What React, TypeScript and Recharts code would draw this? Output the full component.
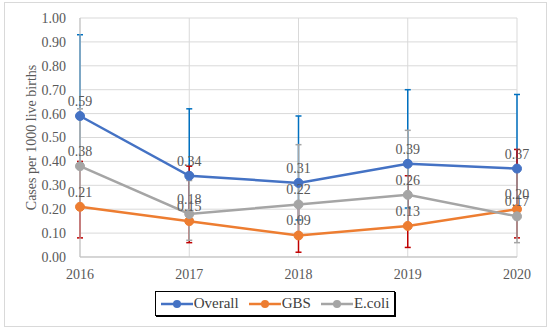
import React from 'react';
import { CartesianGrid, XAxis, YAxis, Line, LineChart, ErrorBar, LabelList, Label } from 'recharts';

const years = ['2016', '2017', '2018', '2019', '2020'];

const overall = [0.59, 0.34, 0.31, 0.39, 0.37];
const overallLow = [0.38, 0.16, 0.155, 0.205, 0.17];
const overallHigh = [0.93, 0.62, 0.59, 0.70, 0.68];

const gbs = [0.21, 0.15, 0.09, 0.13, 0.20];
const gbsLow = [0.08, 0.06, 0.02, 0.04, 0.08];
const gbsHigh = [0.40, 0.38, 0.22, 0.34, 0.45];

const ecoli = [0.38, 0.18, 0.22, 0.26, 0.17];
const ecoliLow = [0.22, 0.07, 0.10, 0.12, 0.06];
const ecoliHigh = [0.62, 0.32, 0.47, 0.53, 0.36];

const yTicks = [0, 0.1, 0.2, 0.3, 0.4, 0.5, 0.6, 0.7, 0.8, 0.9, 1.0];

const data = years.map((year, i) => ({
  year,
  overall: overall[i],
  overallErr: [overall[i] - overallLow[i], overallHigh[i] - overall[i]],
  gbs: gbs[i],
  gbsErr: [gbs[i] - gbsLow[i], gbsHigh[i] - gbs[i]],
  ecoli: ecoli[i],
  ecoliErr: [ecoli[i] - ecoliLow[i], ecoliHigh[i] - ecoli[i]],
}));

const series = [
  { key: 'overall', name: 'Overall', color: '#4472C4', err: '#0070C0' },
  { key: 'gbs', name: 'GBS', color: '#ED7D31', err: '#C00000' },
  { key: 'ecoli', name: 'E.coli', color: '#A5A5A5', err: '#A5A5A5' },
];

const font = '"Liberation Serif", "DejaVu Serif", serif';

const LegendBox = () => (
  <div style={{
    position: 'absolute', left: 155, top: 291, width: 240, height: 25,
    border: '1px solid #000', boxShadow: '1px 1px 0 #000', background: '#fff',
    display: 'flex', alignItems: 'center', justifyContent: 'center',
    fontFamily: font, fontSize: 15, color: '#404040', boxSizing: 'border-box',
  }}>
    {series.map((s) => (
      <div key={s.key} style={{ display: 'flex', alignItems: 'center', margin: '0 5px' }}>
        <svg width={32} height={10}>
          <line x1={0} y1={5} x2={32} y2={5} stroke={s.color} strokeWidth={2.5} />
          <circle cx={16} cy={5} r={4} fill={s.color} />
        </svg>
        <span style={{ marginLeft: 1, fontFamily: font }}>{s.name}</span>
      </div>
    ))}
  </div>
);

const App = () => (
  <div style={{ position: 'absolute', left: 0, top: 0, width: 550, height: 329, background: '#fff' }}>
    <div style={{ position: 'absolute', left: 4, top: 2, width: 541, height: 323, border: '1px solid #d9d9d9' }} />
    <LineChart width={550} height={329} data={data}
      margin={{ top: 18, right: 33, left: 0, bottom: 42 }}>
      <CartesianGrid stroke="#d9d9d9" strokeWidth={1} />
      <XAxis dataKey="year" height={30} tickLine={false} tickSize={0} tickMargin={12}
        axisLine={{ stroke: '#bfbfbf' }}
        tick={{ fill: '#595959', fontFamily: font, fontSize: 14 }} />
      <YAxis width={80} domain={[0, 1]} ticks={yTicks} tickLine={false} tickSize={0} tickMargin={14}
        axisLine={{ stroke: '#bfbfbf' }} tickFormatter={(v: number) => v.toFixed(2)}
        tick={{ fill: '#595959', fontFamily: font, fontSize: 14 }}>
        <Label value="Cases per 1000 live births" angle={-90} position="insideLeft" offset={31}
          style={{ textAnchor: 'middle', fill: '#595959', fontFamily: font, fontSize: 14 }} />
      </YAxis>
      {series.map((s) => (
        <Line key={s.key + 'err'} dataKey={s.key} stroke="none" dot={false} activeDot={false}
          legendType="none" isAnimationActive={false}>
          <ErrorBar dataKey={s.key + 'Err'} direction="y" width={3} stroke={s.err} strokeWidth={1.5} />
        </Line>
      ))}
      {series.map((s) => (
        <Line key={s.key} dataKey={s.key} name={s.name} stroke={s.color} strokeWidth={2.5}
          dot={{ r: 4.5, fill: s.color, stroke: s.color, strokeWidth: 1 }} isAnimationActive={false}>
          <LabelList dataKey={s.key} position="top" offset={10}
            formatter={(v: number) => v.toFixed(2)}
            style={{ fill: '#595959', fontFamily: font, fontSize: 14 }} />
        </Line>
      ))}
    </LineChart>
    <LegendBox />
  </div>
);

export default App;
